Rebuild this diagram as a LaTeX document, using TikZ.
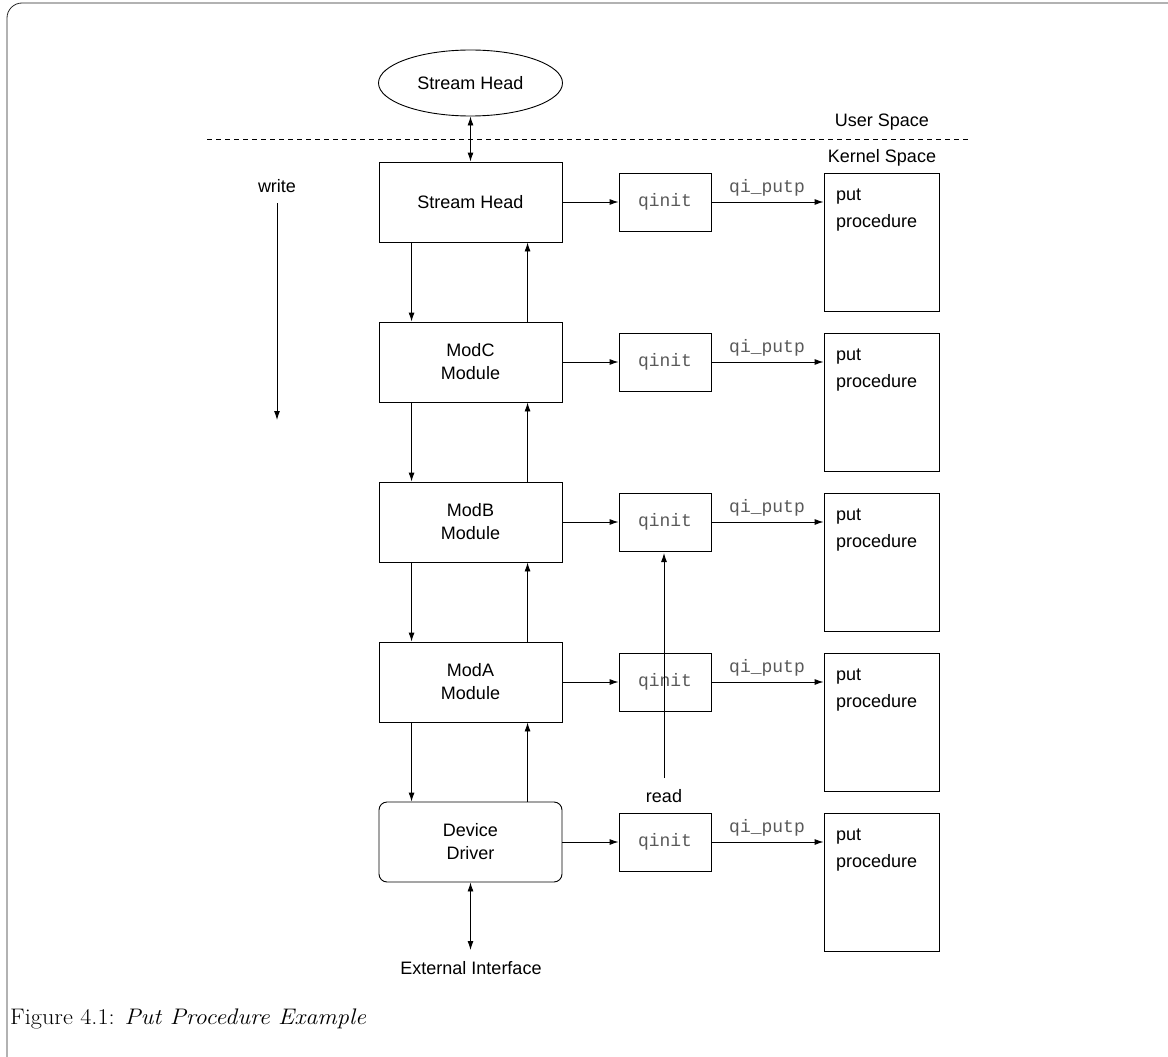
\documentclass[tikz,border=0pt]{standalone}
\usepackage{fontspec}
\setsansfont{Liberation Sans}
\setmonofont{Liberation Mono}
\usetikzlibrary{shapes.geometric,arrows.meta,calc}

\begin{document}
\begin{tikzpicture}[x=1pt,y=-1pt,
  every node/.style={font=\sffamily\fontsize{18}{23}\selectfont},
  wire/.style={line width=0.9pt,-{Latex[length=9pt,width=6pt]}},
  biwire/.style={line width=0.9pt,{Latex[length=9pt,width=6pt]}-{Latex[length=9pt,width=6pt]}},
  modbox/.style={draw,line width=0.9pt,minimum width=183pt,minimum height=80pt,align=center,inner sep=0pt},
  qbox/.style={draw,line width=0.9pt,minimum width=92pt,minimum height=58pt,inner sep=0pt,
    font=\ttfamily\fontsize{18}{20}\selectfont,text=black!65},
  putbox/.style={draw,line width=0.9pt,minimum width=115pt,minimum height=138pt,inner sep=0pt},
  lbl/.style={inner sep=0pt},
  mono/.style={inner sep=0pt,font=\ttfamily\fontsize{18}{20}\selectfont,text=black!65}]

\useasboundingbox (0,0) rectangle (1168,1057);

% outer frame
\draw[line width=0.8pt,black!85,rounded corners=15pt] (7,3) rectangle (1200,1072);

% user/kernel boundary
\draw[line width=0.8pt,dash pattern=on 5pt off 4pt] (207,139) -- (970,139);
\node[lbl] (us) at (882,122) {User Space};
\node[lbl] (ks) at (882,158) {Kernel Space};

% user-level stream head
\node[draw,ellipse,line width=0.9pt,minimum width=184pt,minimum height=66pt,inner sep=0pt]
  (sh0) at (470.5,83) {Stream Head};

% stack of modules
\node[modbox] (m1) at (470.5,202) {Stream Head};
\node[modbox] (m2) at (470.5,362) {ModC\\Module};
\node[modbox] (m3) at (470.5,522) {ModB\\Module};
\node[modbox] (m4) at (470.5,682) {ModA\\Module};
\node[modbox,rounded corners=8pt] (m5) at (470.5,842) {Device\\Driver};

% qinit structures and put procedures
\foreach \i/\y in {1/202,2/362,3/522,4/682,5/842}{
  \node[qbox] (q\i) at (665,\y) {qinit};
  \node[putbox] (p\i) at (881.5,\y+40) {};
  \node[lbl,anchor=west] (pa\i) at (836,\y-5) {put};
  \node[lbl,anchor=west] (pb\i) at (836,\y+21) {procedure};
  \node[mono] (lq\i) at (767,\y-14) {qi\_putp};
  \draw[wire] (m\i.east) -- (q\i.west);
  \draw[wire] (q\i.east) -- (q\i.east -| p\i.west);
}

% down (write side) and up (read side) links between modules
\foreach \a/\b in {1/2,2/3,3/4,4/5}{
  \draw[wire] ($(m\a.south west)+(33,0)$) -- ($(m\b.north west)+(33,0)$);
  \draw[wire] ($(m\b.north west)+(149,0)$) -- ($(m\a.south west)+(149,0)$);
}

% stream head link across the boundary
\draw[biwire] (sh0.south) -- (m1.north);

% external interface
\node[lbl] (ext) at (471,968) {External Interface};
\coordinate (extTop) at (470.5,950);
\draw[biwire] (m5.south) -- (extTop);

% write direction
\node[lbl] (write) at (277,186) {write};
\coordinate (wTop) at (277,203);
\coordinate (wEnd) at (277,420);
\draw[wire] (wTop) -- (wEnd);

% read direction
\node[lbl] (read) at (664,796) {read};
\coordinate (rStart) at (664,778);
\coordinate (rEnd) at (664,553);
\draw[wire] (rStart) -- (rEnd);

% caption
\node[lbl,anchor=base west,font=\rmfamily\fontsize{22.5}{26}\selectfont] (cap) at (10,1024)
  {\scalebox{1.08}[1]{Figure 4.1: \textit{Put Procedure Example}}};
\end{tikzpicture}
\end{document}
